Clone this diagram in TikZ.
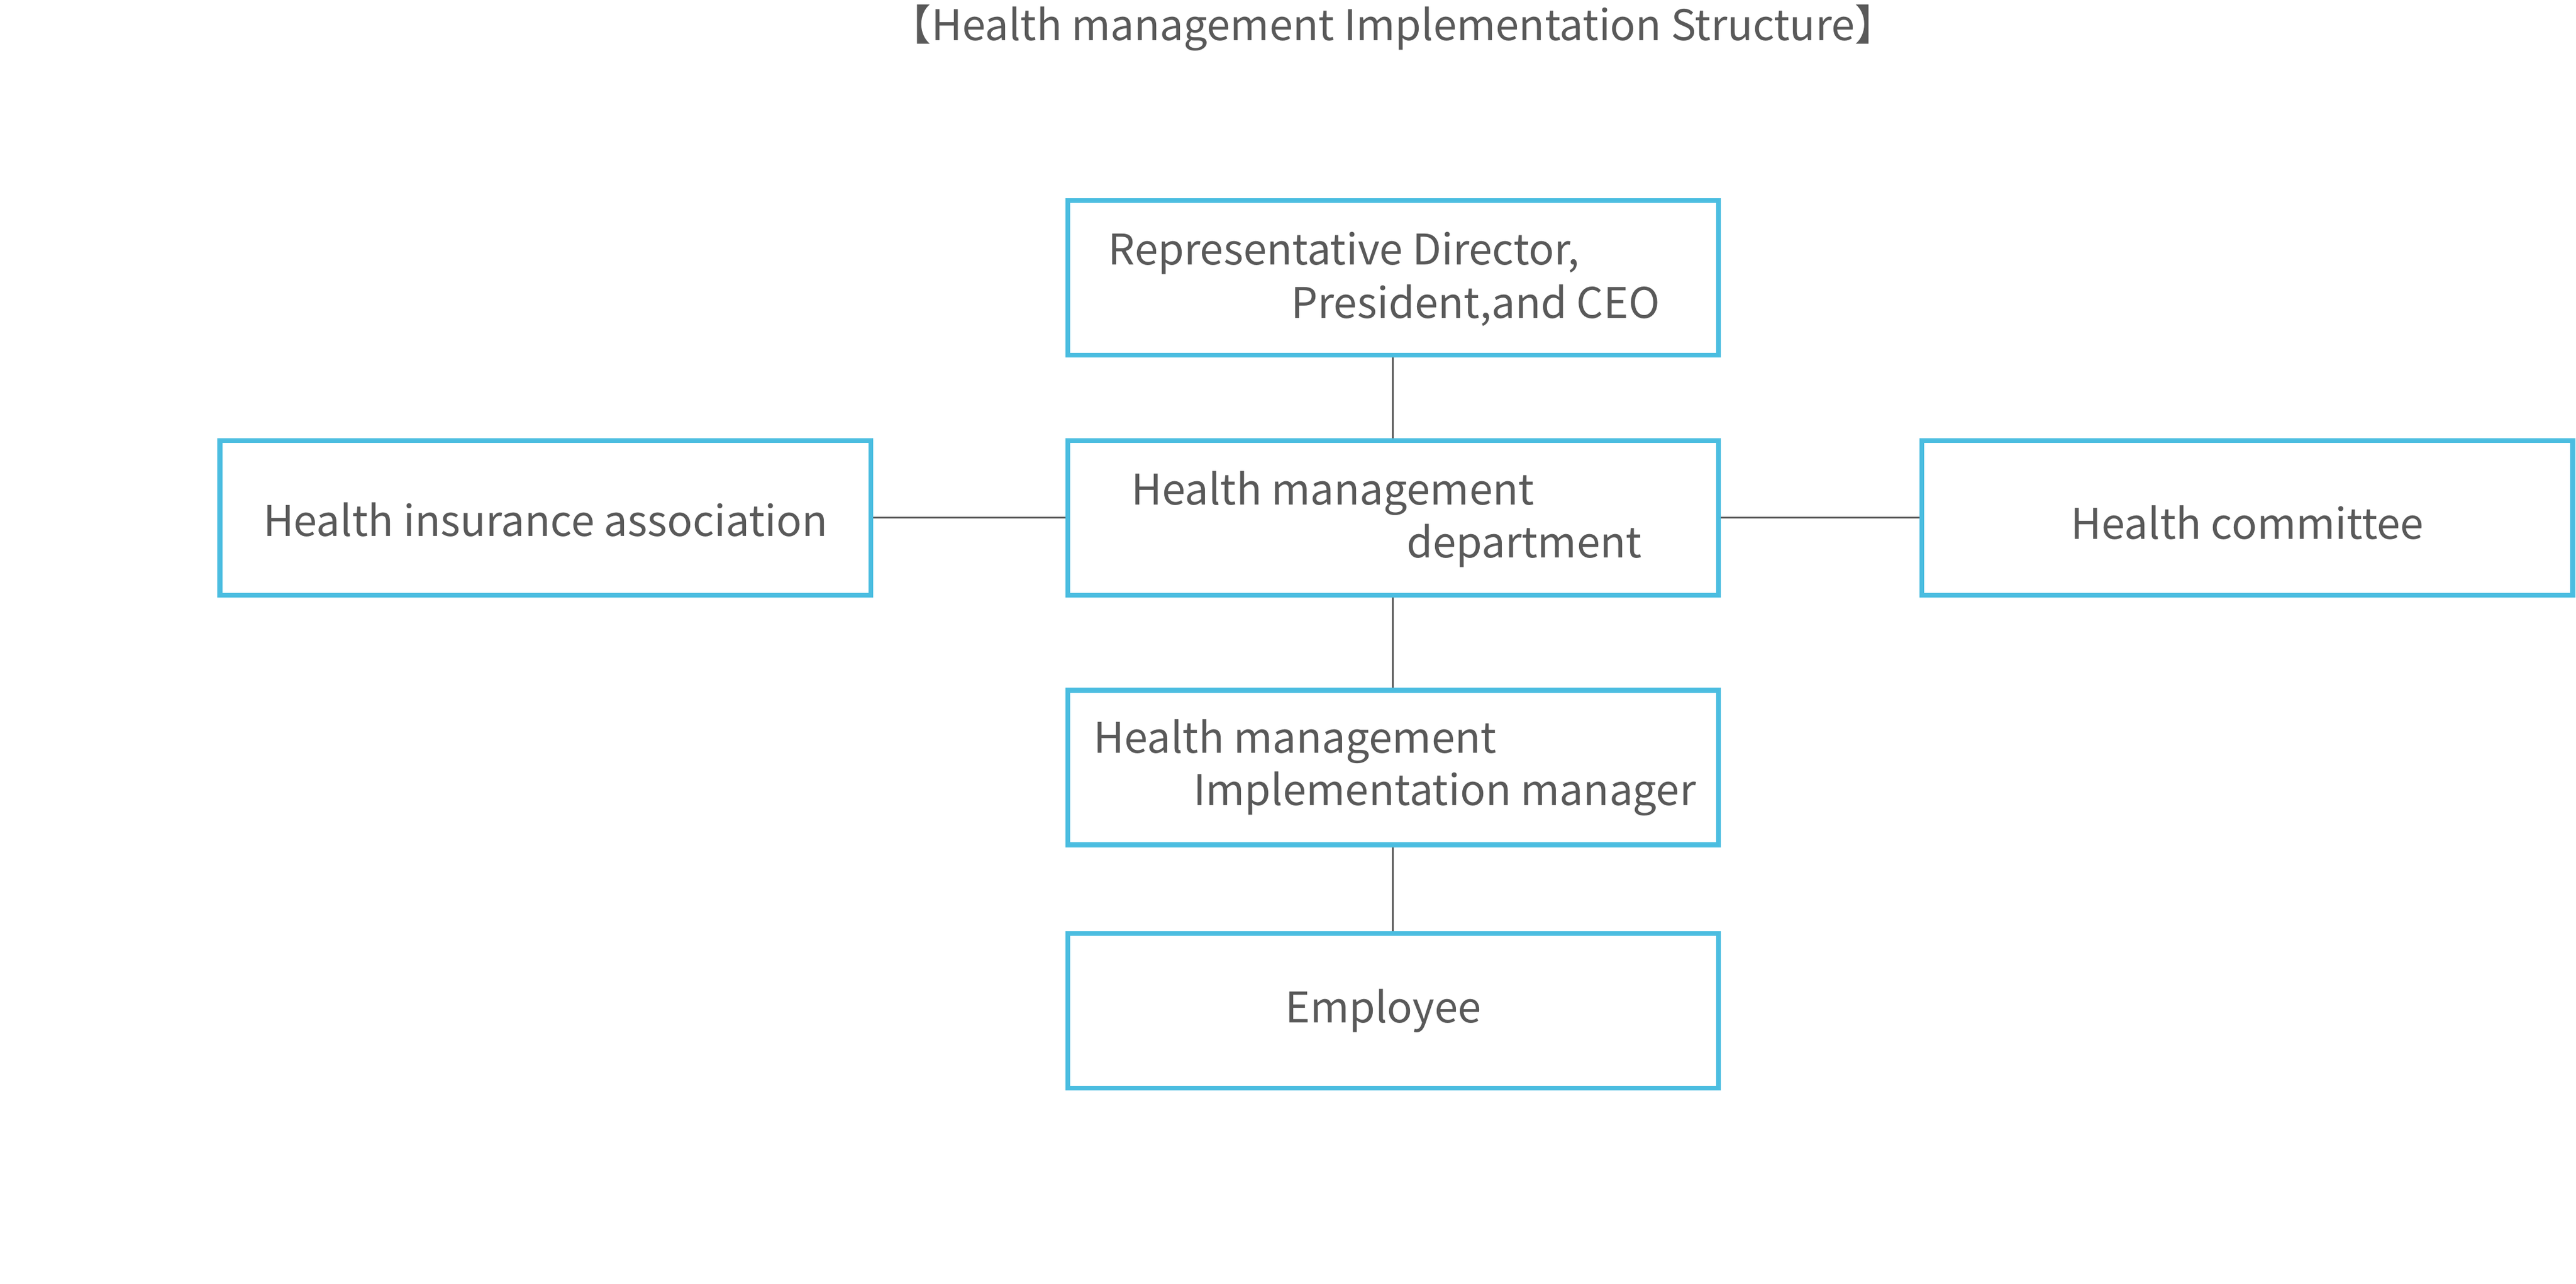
\documentclass[tikz,border=0pt]{standalone}
\usepackage{fontspec}
\setmainfont{Noto Sans CJK JP}
\definecolor{bx}{HTML}{4BBDE0}
\definecolor{tx}{HTML}{595959}
\begin{document}
\begin{tikzpicture}[x=0.01cm,y=-0.01cm,
  box/.style={draw=bx,line width=0.85pt,minimum width=3.96cm,minimum height=0.94cm,inner sep=0pt},
  lbl/.style={text=tx,font=\fontsize{7.3}{8}\selectfont,inner sep=0pt},
  con/.style={draw=tx,line width=0.3pt}]
\useasboundingbox (0,0) rectangle (1568,781);
\node[lbl] (title) at (848,17) {【Health management Implementation Structure】};
\node[box] (ceo) at (848,169) {};
\node[box] (hmd) at (848,315) {};
\node[box] (hia) at (332,315) {};
\node[box] (hc) at (1368,315) {};
\node[box] (mgr) at (848,467) {};
\node[box] (emp) at (848,615) {};
\node[lbl,anchor=west] (ceo1) at (674,154) {Representative Director,};
\node[lbl,anchor=east] (ceo2) at (1011,186) {President,and CEO};
\node[lbl,anchor=west] (hmd1) at (688,300) {Health management};
\node[lbl,anchor=east] (hmd2) at (1000,332) {department};
\node[lbl] (hiat) at (332,316) {Health insurance association};
\node[lbl] (hct) at (1368,318) {Health committee};
\node[lbl,anchor=west] (mgr1) at (665,451) {Health management};
\node[lbl,anchor=east] (mgr2) at (1033,483) {Implementation manager};
\node[lbl] (empt) at (842,615) {Employee};
\draw[con] (ceo.south) -- (hmd.north);
\draw[con] (hmd.south) -- (mgr.north);
\draw[con] (mgr.south) -- (emp.north);
\draw[con] (hia.east) -- (hmd.west);
\draw[con] (hmd.east) -- (hc.west);
\end{tikzpicture}
\end{document}
